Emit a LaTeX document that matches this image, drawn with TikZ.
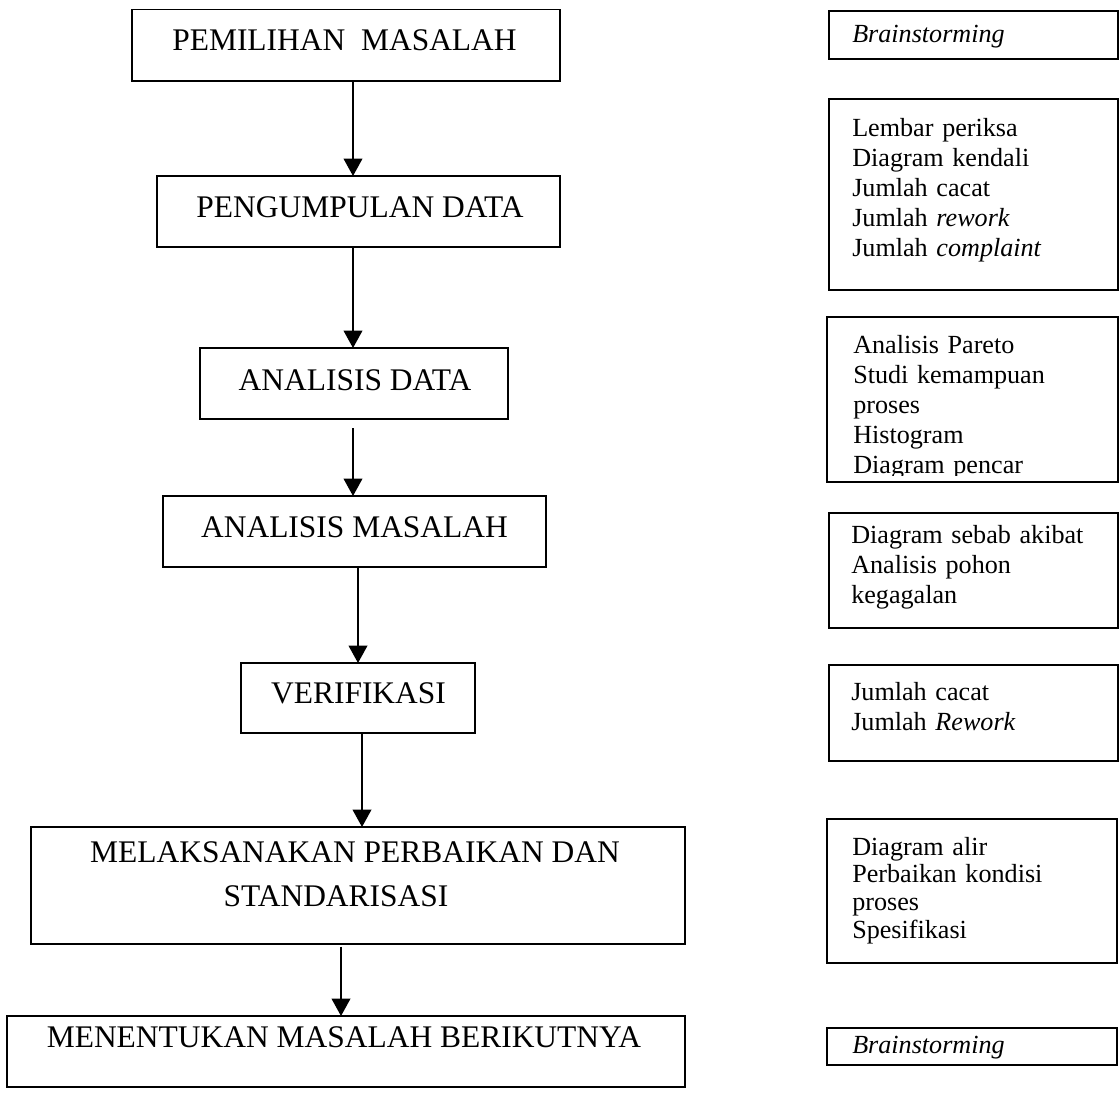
\documentclass[tikz,border=0pt]{standalone}
\usepackage{fontspec}
\setmainfont{Liberation Serif}
\usetikzlibrary{arrows.meta}
\newcommand\mkbox[5]{\node[boxst, minimum width={(#4-#2)*0.75pt}, minimum height={(#5-#3)*0.75pt}] (#1) at ({(#2+#4)/2},{(#3+#5)/2}) {};}
\begin{document}
\begin{tikzpicture}[x=0.75pt,y=-0.75pt,
  boxst/.style={draw, line width=1.2pt, inner sep=0pt, outer sep=0pt},
  ltext/.style={font=\fontsize{23.6pt}{28pt}\selectfont, inner sep=0pt, anchor=base},
  rtext/.style={font=\fontsize{19.6pt}{22.5pt}\selectfont, inner sep=0pt, anchor=base west, align=left, text width=200pt},
  arr/.style={line width=1.2pt, -{Triangle[width=14pt,length=13pt]}}]
\fill[white] (0,0) rectangle (1120,1095);
\useasboundingbox (0,0) rectangle (1120,1095);

% left column boxes
\mkbox{b1}{132}{9.5}{560}{81}
\mkbox{b2}{157}{176}{560}{247}
\mkbox{b3}{200}{348}{508}{419}
\mkbox{b4}{163}{496}{546}{567}
\mkbox{b5}{241}{663}{475}{733}
\mkbox{b6}{31}{827}{685}{944}
\mkbox{b7}{7}{1016}{685}{1087}

\node[ltext] (t1) at (344.5,51) {PEMILIHAN\ \ MASALAH};
\node[ltext] (t2) at (360,217) {PENGUMPULAN DATA};
\node[ltext] (t3) at (355,390) {ANALISIS DATA};
\node[ltext] (t4) at (354.5,537) {ANALISIS MASALAH};
\node[ltext] (t5) at (358.5,703) {VERIFIKASI};
\node[ltext] (t6a) at (355,862) {MELAKSANAKAN PERBAIKAN DAN};
\node[ltext] (t6b) at (336,906) {STANDARISASI};
\node[ltext] (t7) at (344,1047) {MENENTUKAN MASALAH BERIKUTNYA};

% right column boxes
\mkbox{r1}{829}{11}{1118}{59}
\mkbox{r2}{829}{99}{1118}{290}
\mkbox{r3}{827}{317}{1118}{482}
\mkbox{r4}{829}{513}{1118}{628}
\mkbox{r5}{829}{665}{1118}{761}
\mkbox{r6}{827}{819}{1117}{963}
\mkbox{r7}{827}{1028}{1117}{1065}

\node[rtext] (s1) at (852,43) {\textit{Brainstorming}};
\node[rtext] (s2) at (852,137) {Lembar periksa\\Diagram kendali\\Jumlah cacat\\Jumlah \textit{rework}\\Jumlah \textit{complaint}};
\begin{scope}
\clip (827,317) rectangle (1118,475);
\node[rtext] (s3) at (853,353) {Analisis Pareto\\Studi kemampuan\\proses\\Histogram\\Diagram pencar};
\end{scope}
\node[rtext] (s4) at (851,543) {Diagram sebab akibat\\Analisis pohon\\kegagalan};
\node[rtext] (s5) at (851,700) {Jumlah cacat\\Jumlah \textit{Rework}};
\node[rtext, font=\fontsize{19.6pt}{20.8pt}\selectfont] (s6) at (852,855) {Diagram alir\\Perbaikan kondisi\\proses\\Spesifikasi};
\node[rtext] (s7) at (852,1053) {\textit{Brainstorming}};

% connectors
\coordinate (xa) at (353,0);
\coordinate (xb) at (358,0);
\coordinate (xc) at (362,0);
\coordinate (xd) at (341,0);
\draw[arr] (b1.south -| xa) -- (b2.north -| xa);
\draw[arr] (b2.south -| xa) -- (b3.north -| xa);
\draw[arr, shorten <=6.75pt] (b3.south -| xa) -- (b4.north -| xa);
\draw[arr] (b4.south -| xb) -- (b5.north -| xb);
\draw[arr] (b5.south -| xc) -- (b6.north -| xc);
\draw[arr, shorten <=2pt] (b6.south -| xd) -- (b7.north -| xd);
\end{tikzpicture}
\end{document}
